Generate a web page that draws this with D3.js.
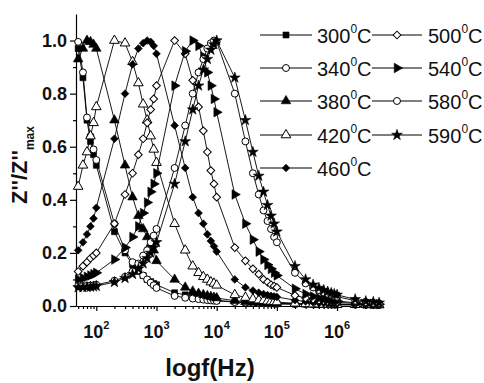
<!DOCTYPE html>
<html>
<head>
<meta charset="utf-8">
<script src="https://cdn.jsdelivr.net/npm/d3@7"></script>
<style>
  html, body { margin: 0; padding: 0; background: #fff; }
  svg { display: block; font-family: "Liberation Sans", Arial, sans-serif; }
</style>
</head>
<body>
<div id="chart"></div>
<script>
// measured frequencies (Hz), same sweep for every temperature
const freqHz = [
  50, 60, 70, 80, 90,
  100, 200, 300, 400, 500, 600, 700, 800, 900,
  1e3, 2e3, 3e3, 4e3, 5e3, 6e3, 7e3, 8e3, 9e3,
  1e4, 2e4, 3e4, 4e4, 5e4, 6e4, 7e4, 8e4, 9e4,
  1e5, 2e5, 3e5, 4e5, 5e5, 6e5, 7e5, 8e5, 9e5,
  1e6, 2e6, 3e6, 4e6, 5e6
];

// normalised Z''/Z''max per temperature
const t300 = [0.97, 0.86, 0.70, 0.62, 0.57,
  0.53, 0.28, 0.20, 0.155, 0.13, 0.115, 0.10, 0.092, 0.085,
  0.08, 0.05, 0.042, 0.036, 0.032, 0.029, 0.027, 0.025, 0.023,
  0.021, 0.016, 0.014, 0.013, 0.012, 0.011, 0.011, 0.010, 0.010,
  0.009, 0.008, 0.008, 0.007, 0.007, 0.007, 0.006, 0.006, 0.006,
  0.006, 0.005, 0.005, 0.005, 0.005];
const t340 = [0.995, 0.88, 0.71, 0.64, 0.59,
  0.55, 0.31, 0.21, 0.165, 0.135, 0.115, 0.10, 0.088, 0.078,
  0.068, 0.038, 0.031, 0.028, 0.026, 0.024, 0.022, 0.021, 0.020,
  0.019, 0.015, 0.013, 0.012, 0.011, 0.010, 0.010, 0.009, 0.009,
  0.008, 0.007, 0.007, 0.006, 0.006, 0.006, 0.006, 0.005, 0.005,
  0.005, 0.005, 0.004, 0.004, 0.004];
const t380 = [0.93, 0.97, 1.0, 0.995, 0.985,
  0.97, 0.70, 0.53, 0.41, 0.34, 0.29, 0.26, 0.235, 0.21,
  0.17, 0.10, 0.07, 0.055, 0.047, 0.042, 0.038, 0.035, 0.032,
  0.030, 0.020, 0.016, 0.014, 0.013, 0.012, 0.011, 0.010, 0.010,
  0.009, 0.008, 0.007, 0.007, 0.006, 0.006, 0.006, 0.006, 0.005,
  0.005, 0.005, 0.005, 0.004, 0.004];
const t420 = [0.45, 0.53, 0.58, 0.64, 0.69,
  0.75, 1.0, 0.99, 0.92, 0.84, 0.76, 0.70, 0.64, 0.59,
  0.54, 0.31, 0.21, 0.15, 0.125, 0.11, 0.10, 0.09, 0.085,
  0.078, 0.042, 0.032, 0.026, 0.022, 0.020, 0.018, 0.017, 0.016,
  0.015, 0.010, 0.008, 0.007, 0.007, 0.006, 0.006, 0.006, 0.005,
  0.005, 0.005, 0.005, 0.004, 0.004];
const t460 = [0.21, 0.24, 0.27, 0.30, 0.33,
  0.37, 0.63, 0.80, 0.91, 0.97, 0.99, 1.0, 0.995, 0.98,
  0.95, 0.68, 0.52, 0.41, 0.35, 0.31, 0.27, 0.245, 0.225,
  0.205, 0.10, 0.07, 0.058, 0.05, 0.045, 0.041, 0.038, 0.036,
  0.034, 0.022, 0.017, 0.014, 0.012, 0.011, 0.010, 0.009, 0.009,
  0.008, 0.006, 0.005, 0.005, 0.004];
const t500 = [0.13, 0.15, 0.165, 0.18, 0.19,
  0.20, 0.31, 0.42, 0.50, 0.57, 0.63, 0.69, 0.74, 0.78,
  0.83, 1.0, 0.95, 0.85, 0.75, 0.66, 0.58, 0.51, 0.46,
  0.41, 0.22, 0.17, 0.14, 0.12, 0.10, 0.09, 0.08, 0.075,
  0.07, 0.04, 0.03, 0.025, 0.021, 0.019, 0.017, 0.016, 0.015,
  0.014, 0.010, 0.008, 0.007, 0.006];
const t540 = [0.10, 0.105, 0.11, 0.115, 0.12,
  0.125, 0.175, 0.22, 0.26, 0.30, 0.35, 0.39, 0.43, 0.46,
  0.50, 0.83, 0.96, 1.0, 0.98, 0.94, 0.88, 0.83, 0.78,
  0.73, 0.42, 0.31, 0.25, 0.205, 0.175, 0.155, 0.14, 0.125,
  0.115, 0.065, 0.045, 0.036, 0.03, 0.027, 0.024, 0.022, 0.020,
  0.019, 0.012, 0.009, 0.008, 0.007];
const t580 = [0.075, 0.075, 0.076, 0.077, 0.078,
  0.08, 0.095, 0.11, 0.13, 0.16, 0.19, 0.21, 0.24, 0.265,
  0.29, 0.52, 0.68, 0.80, 0.88, 0.93, 0.97, 0.99, 1.0,
  0.995, 0.80, 0.62, 0.50, 0.42, 0.36, 0.32, 0.29, 0.26,
  0.24, 0.125, 0.085, 0.07, 0.06, 0.052, 0.046, 0.042, 0.038,
  0.035, 0.02, 0.015, 0.012, 0.01];
const t590 = [0.07, 0.07, 0.071, 0.072, 0.073,
  0.075, 0.09, 0.105, 0.12, 0.14, 0.16, 0.18, 0.20, 0.22,
  0.24, 0.46, 0.62, 0.74, 0.83, 0.89, 0.93, 0.965, 0.985,
  1.0, 0.86, 0.70, 0.58, 0.49, 0.43, 0.38, 0.34, 0.31,
  0.28, 0.15, 0.10, 0.08, 0.068, 0.06, 0.054, 0.049, 0.045,
  0.042, 0.025, 0.018, 0.015, 0.012];

const temps = ["300", "340", "380", "420", "460", "500", "540", "580", "590"];
const values = [t300, t340, t380, t420, t460, t500, t540, t580, t590];

const yTicks = [0, 0.2, 0.4, 0.6, 0.8, 1.0];
const yMinorTicks = [0.1, 0.3, 0.5, 0.7, 0.9];
const xExponents = [2, 3, 4, 5, 6];

// marker look per series (same order as temps)
const markers = [
  { shape: "square", fill: true },
  { shape: "circle", fill: false },
  { shape: "triangle", fill: true },
  { shape: "triangle", fill: false },
  { shape: "diamond", fill: true },
  { shape: "diamond", fill: false },
  { shape: "right", fill: true },
  { shape: "circle", fill: false },
  { shape: "star", fill: true }
];

const width = 484, height = 383;
const plot = { left: 76, right: 383, top: 14, bottom: 306 };

const svg = d3.select("#chart").append("svg")
  .attr("width", width)
  .attr("height", height)
  .attr("viewBox", `0 0 ${width} ${height}`);

const x = d3.scaleLog().domain([46, 5.8e6]).range([plot.left, plot.right]);
const y = d3.scaleLinear().domain([0, 1.1]).range([plot.bottom, plot.top]);

function symbolPath(shape) {
  switch (shape) {
    case "square": return d3.symbol().type(d3.symbolSquare).size(36)();
    case "circle": return d3.symbol().type(d3.symbolCircle).size(38)();
    case "triangle": return d3.symbol().type(d3.symbolTriangle).size(40)();
    case "right": return d3.symbol().type(d3.symbolTriangle).size(40)();
    case "diamond": return d3.symbol().type(d3.symbolSquare).size(30)();
    case "star": return d3.symbol().type(d3.symbolStar).size(36)();
  }
}
function symbolRotate(shape) {
  if (shape === "right") return 90;
  if (shape === "diamond") return 45;
  return 0;
}

function drawMarker(g, m, cx, cy) {
  g.append("path")
    .attr("d", symbolPath(m.shape))
    .attr("transform", `translate(${cx},${cy}) rotate(${symbolRotate(m.shape)})`)
    .attr("fill", m.fill ? "#000" : "#fff")
    .attr("stroke", "#000")
    .attr("stroke-width", m.fill ? 0.6 : 1);
}

// axes
const yAxis = svg.append("g")
  .attr("transform", `translate(${plot.left},0)`)
  .call(d3.axisLeft(y).tickValues(yTicks).tickSize(6).tickSizeOuter(0).tickPadding(3)
    .tickFormat(d3.format(".1f")));
svg.append("g")
  .attr("transform", `translate(${plot.left},0)`)
  .call(d3.axisLeft(y).tickValues(yMinorTicks).tickSize(3).tickSizeOuter(0).tickFormat(""))
  .call((g) => g.select(".domain").remove());

yAxis.selectAll("text")
  .attr("font-size", 18).attr("font-weight", "bold").attr("fill", "#111")
  .attr("font-family", "Liberation Sans, Arial, sans-serif");

svg.append("g")
  .attr("transform", `translate(0,${plot.bottom})`)
  .call(d3.axisBottom(x).tickValues(xExponents.map((e) => 10 ** e)).tickSize(5).tickSizeOuter(0).tickFormat(""));
const minor = x.ticks().filter((v) => Math.abs(Math.log10(v) - Math.round(Math.log10(v))) > 1e-6);
svg.append("g")
  .attr("transform", `translate(0,${plot.bottom})`)
  .call(d3.axisBottom(x).tickValues(minor).tickSize(3).tickSizeOuter(0).tickFormat(""))
  .call((g) => g.select(".domain").remove());

svg.selectAll(".domain, .tick line").attr("stroke", "#000").attr("stroke-width", 1.2);

xExponents.forEach((e) => {
  const t = svg.append("text")
    .attr("x", x(10 ** e))
    .attr("y", 338)
    .attr("text-anchor", "middle")
    .attr("font-size", 18).attr("font-weight", "bold").attr("fill", "#111");
  t.append("tspan").text("10");
  t.append("tspan").attr("font-size", 11).attr("dy", -9).text(e);
});

// axis titles
svg.append("text")
  .attr("x", 210).attr("y", 376)
  .attr("text-anchor", "middle")
  .attr("font-size", 24).attr("font-weight", "bold").attr("fill", "#111")
  .text("logf(Hz)");

const yt = svg.append("text")
  .attr("transform", "translate(27,165) rotate(-90)")
  .attr("text-anchor", "middle")
  .attr("font-size", 22).attr("font-weight", "bold").attr("fill", "#111");
yt.append("tspan").text("Z''/Z''");
yt.append("tspan").attr("font-size", 12).attr("dy", 7).text("max");

// curves
const line = d3.line()
  .x((d) => x(d[0]))
  .y((d) => y(d[1]));

values.forEach((vals, i) => {
  const pts = freqHz.map((f, j) => [f, vals[j]]);
  const g = svg.append("g");
  g.append("path")
    .attr("d", line(pts))
    .attr("fill", "none")
    .attr("stroke", "#000")
    .attr("stroke-width", 0.9);
  pts.forEach((p) => drawMarker(g, markers[i], x(p[0]), y(p[1])));
});

// legend: two columns
const legendRows = [35, 68, 101, 135, 168];
const legendCols = [{ x1: 260, x2: 312, tx: 317 }, { x1: 372, x2: 422, tx: 428 }];
temps.forEach((t, i) => {
  const col = legendCols[i < 5 ? 0 : 1];
  const ry = legendRows[i < 5 ? i : i - 5];
  const g = svg.append("g");
  g.append("line")
    .attr("x1", col.x1).attr("x2", col.x2)
    .attr("y1", ry).attr("y2", ry)
    .attr("stroke", "#000").attr("stroke-width", 1.2);
  drawMarker(g, markers[i], (col.x1 + col.x2) / 2, ry);
  const txt = g.append("text")
    .attr("x", col.tx).attr("y", ry + 8)
    .attr("font-size", 20).attr("fill", "#111");
  txt.append("tspan").text(t);
  txt.append("tspan").attr("font-size", 12).attr("dy", -10).text("0");
  txt.append("tspan").attr("dy", 10).text("C");
});
</script>
</body>
</html>
